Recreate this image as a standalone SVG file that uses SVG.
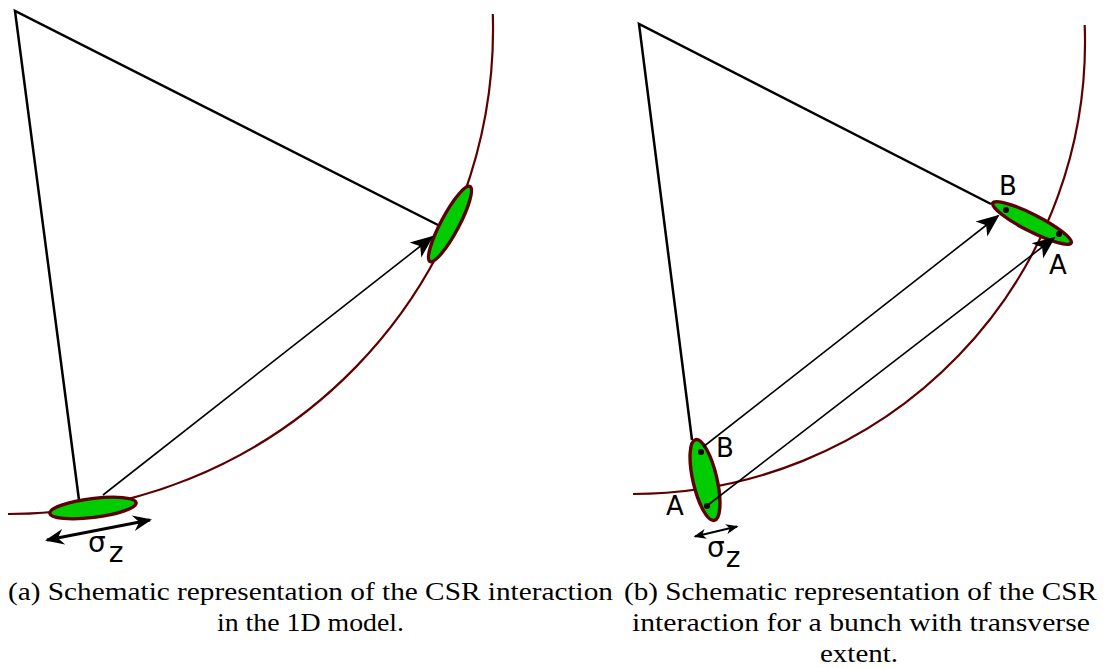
<svg xmlns="http://www.w3.org/2000/svg" width="1108" height="668" viewBox="0 0 1108 668">
  <style>
    .orbit { fill: none; stroke: #5f0000; stroke-width: 2.2; }
    .tri { fill: none; stroke: #000; stroke-width: 2.5; stroke-linejoin: miter; }
    .ray { fill: none; stroke: #000; stroke-width: 1.6; }
    .bunch { fill: #00cc00; stroke: #5f0000; stroke-width: 3.4; }
    .dot { fill: #000; }
    .lbl { font-family: "DejaVu Sans", sans-serif; font-size: 26px; fill: #000; }
    .sig { font-family: "DejaVu Sans", sans-serif; font-size: 28px; fill: #000; }
    .cap { font-family: "Liberation Serif", serif; font-size: 26px; fill: #000; }
  </style>
  <defs>
    <marker id="ahBig" viewBox="-24 -11 28 22" refX="0" refY="0" markerWidth="28" markerHeight="22" orient="auto" markerUnits="userSpaceOnUse">
      <path d="M2,0 L-21,-9.5 L-15,0 L-21,9.5 Z" fill="#000"/>
    </marker>
    <marker id="ahSig" viewBox="-20 -10 23 20" refX="0" refY="0" markerWidth="23" markerHeight="20" orient="auto-start-reverse" markerUnits="userSpaceOnUse">
      <path d="M2,0 L-17,-8 L-11,0 L-17,8 Z" fill="#000"/>
    </marker>
    <marker id="ahSmall" viewBox="-13 -7 15 14" refX="0" refY="0" markerWidth="15" markerHeight="14" orient="auto-start-reverse" markerUnits="userSpaceOnUse">
      <path d="M1.5,0 L-11,-5 L-7.5,0 L-11,5 Z" fill="#000"/>
    </marker>
  </defs>

  <!-- Panel (a) -->
  <g id="orbit-a">
    <path class="orbit" d="M8,514 A485,485 0 0 0 492.8,14"/>
  </g>
  <g id="connectors-a">
    <path class="tri" d="M79,500 L15,11 L440,226"/>
  </g>
  <g id="bunch-a-source">
    <ellipse class="bunch" cx="93" cy="508" rx="43.5" ry="9.5" transform="rotate(-7 93 508)"/>
  </g>
  <g id="bunch-a-target">
    <ellipse class="bunch" cx="450" cy="224" rx="42.5" ry="9" transform="rotate(-62 450 224)"/>
  </g>
  <g id="arrows-a">
    <line class="ray" x1="103" y1="495" x2="432" y2="237" marker-end="url(#ahBig)"/>
    <line x1="47" y1="540" x2="150" y2="520" stroke="#000" stroke-width="3" marker-start="url(#ahSig)" marker-end="url(#ahSig)"/>
  </g>
  <g id="sigma-a">
    <text class="sig" x="88" y="552">σ<tspan dx="3" dy="10">z</tspan></text>
  </g>

  <!-- Panel (b) -->
  <g id="orbit-b">
    <path class="orbit" d="M633,494 A452,452 0 0 0 1084.7,25"/>
  </g>
  <g id="connectors-b">
    <path class="tri" d="M692,440 L639,24 L991,204"/>
  </g>
  <g id="bunch-b-source">
    <ellipse class="bunch" cx="705" cy="480" rx="41.5" ry="12" transform="rotate(77 705 480)"/>
    <circle class="dot" cx="701" cy="452" r="3"/>
    <circle class="dot" cx="707" cy="506" r="3"/>
  </g>
  <g id="bunch-b-target">
    <ellipse class="bunch" cx="1032" cy="223" rx="44" ry="8.5" transform="rotate(27 1032 223)"/>
    <circle class="dot" cx="1006" cy="210" r="3"/>
    <circle class="dot" cx="1059" cy="234" r="3"/>
  </g>
  <g id="arrows-b">
    <line class="ray" x1="703" y1="447" x2="998" y2="216" marker-end="url(#ahBig)"/>
    <line class="ray" x1="708" y1="505" x2="1054" y2="238" marker-end="url(#ahBig)"/>
    <line x1="695" y1="536.5" x2="737" y2="526.5" stroke="#000" stroke-width="2" marker-start="url(#ahSmall)" marker-end="url(#ahSmall)"/>
  </g>
  <g id="labels-b">
    <text class="lbl" x="716" y="457">B</text>
    <text class="lbl" x="666" y="515">A</text>
    <text class="lbl" x="999" y="195">B</text>
    <text class="lbl" x="1049" y="274">A</text>
    <text class="sig" x="707" y="557">σ<tspan dx="1" dy="10">z</tspan></text>
  </g>

  <!-- Captions -->
  <g id="caption-a">
    <text class="cap" x="8" y="600" textLength="605" lengthAdjust="spacingAndGlyphs">(a) Schematic representation of the CSR interaction</text>
    <text class="cap" x="217" y="631" textLength="187" lengthAdjust="spacingAndGlyphs">in the 1D model.</text>
  </g>
  <g id="caption-b">
    <text class="cap" x="624" y="600" textLength="473" lengthAdjust="spacingAndGlyphs">(b) Schematic representation of the CSR</text>
    <text class="cap" x="632" y="631" textLength="458" lengthAdjust="spacingAndGlyphs">interaction for a bunch with transverse</text>
    <text class="cap" x="820" y="662" textLength="78" lengthAdjust="spacingAndGlyphs">extent.</text>
  </g>
</svg>
